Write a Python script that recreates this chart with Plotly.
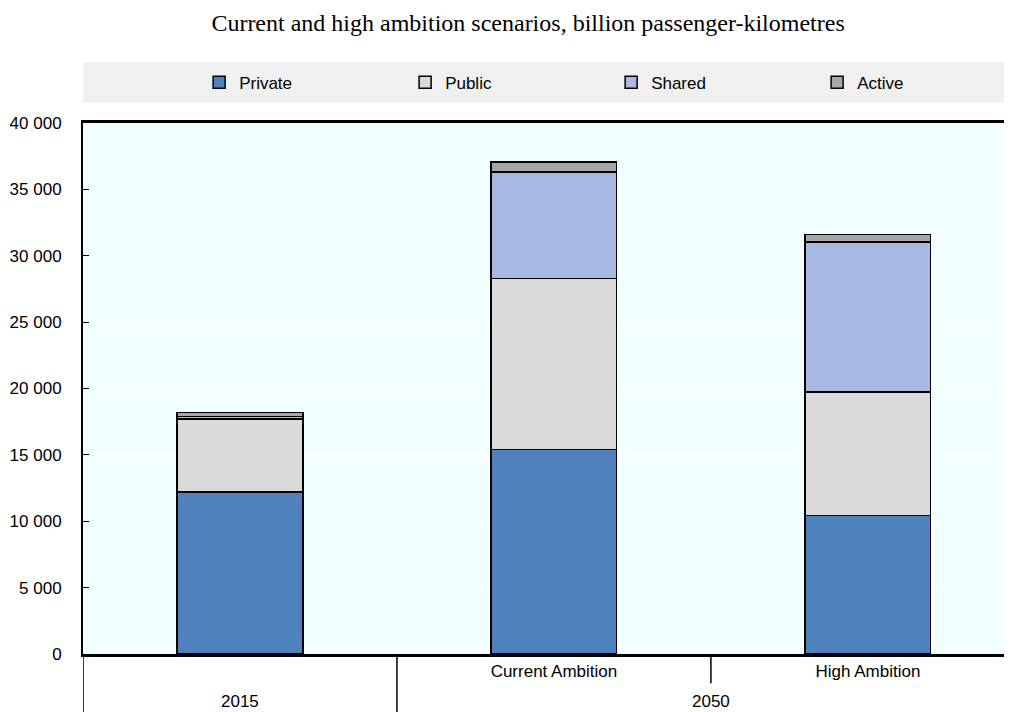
import plotly.graph_objects as go

categories = ["2015", "Current Ambition", "High Ambition"]
tick_labels = ["", "Current Ambition", "High Ambition"]
groups = ["2015", "2050"]

private = [12200, 15400, 10450]
public = [5500, 12900, 9300]
shared = [200, 8000, 11300]
active = [300, 750, 550]

series = [
    ("Private", private, "#4F81BD"),
    ("Public", public, "#DADADA"),
    ("Shared", shared, "#A7B9E3"),
    ("Active", active, "#A6A6A6"),
]

fig = go.Figure()
for name, vals, color in series:
    fig.add_trace(go.Bar(
        x=categories,
        y=vals,
        name=name,
        marker=dict(color=color, line=dict(color="black", width=1.5)),
        width=0.4,
    ))

# grey band behind the legend
fig.add_shape(type="rect", xref="paper", yref="paper",
              x0=0, x1=1.01, y0=1.038, y1=1.115,
              fillcolor="#F0F0F0", line=dict(width=0), layer="below")

# group dividers below the axis
fig.add_shape(type="line", xref="x", yref="paper", x0=-0.5, x1=-0.5, y0=0, y1=-0.12,
              line=dict(color="black", width=1.5))
fig.add_shape(type="line", xref="x", yref="paper", x0=0.5, x1=0.5, y0=0, y1=-0.12,
              line=dict(color="black", width=1.5))
fig.add_shape(type="line", xref="x", yref="paper", x0=1.5, x1=1.5, y0=0, y1=-0.055,
              line=dict(color="black", width=1.5))

# outer group labels
fig.add_annotation(x=0, xref="x", y=-0.089, yref="paper", text=groups[0],
                   showarrow=False, yanchor="middle")
fig.add_annotation(x=1.5, xref="x", y=-0.089, yref="paper", text=groups[1],
                   showarrow=False, yanchor="middle")

# page body has an 8px margin, so the figure is 8px smaller than the window
fig.update_layout(
    barmode="stack",
    separators=". ",
    width=1004, height=704,
    font=dict(family="Liberation Sans, Arial", size=17, color="black"),
    title=dict(text="Current and high ambition scenarios, billion passenger-kilometres",
               font=dict(family="Liberation Serif, Times New Roman", size=24),
               x=0.518, xanchor="center", y=0.979, yanchor="middle"),
    paper_bgcolor="white",
    plot_bgcolor="#F2FFFF",
    margin=dict(l=75, r=0, t=115, b=58, autoexpand=False),
    legend=dict(orientation="h", x=0.125, xanchor="left", y=1.076, yanchor="middle",
                bgcolor="rgba(0,0,0,0)", entrywidth=161, traceorder="normal",
                font=dict(size=17)),
    xaxis=dict(type="category", range=[-0.5, 2.459], tickvals=categories,
               ticktext=tick_labels, showline=True, linecolor="black", linewidth=2.5,
               mirror=True, ticks="", showgrid=False, automargin=False,
               ticklabelstandoff=0),
    yaxis=dict(range=[0, 40000], dtick=5000, tickformat=",d", showline=True,
               linecolor="black", linewidth=2, gridcolor="white",
               gridwidth=1, zeroline=False, ticks="inside", ticklen=6,
               tickcolor="black", ticklabelstandoff=16, automargin=False),
    bargap=0.6,
)

fig.write_html("out.html")
